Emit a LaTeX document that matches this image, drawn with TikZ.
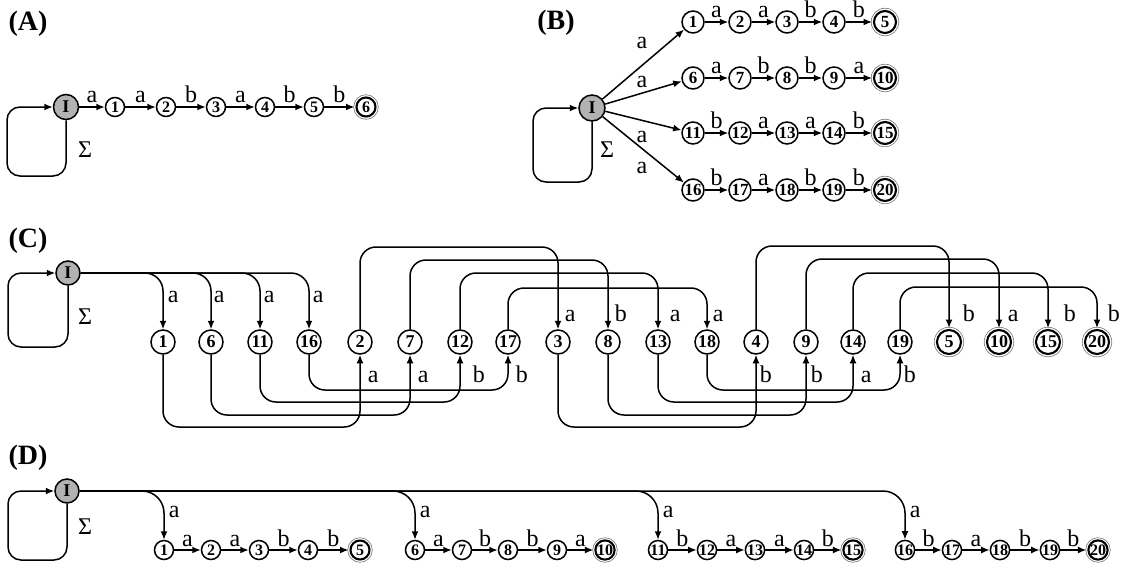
\documentclass[tikz,border=0pt]{standalone}
\usepackage{fontspec}
\setmainfont{Liberation Serif}
\usetikzlibrary{arrows.meta}
\tikzset{
  arr/.style={-{Latex[length=8.5pt,width=7pt]}},
  lab/.style={font=\fontsize{24}{24}\selectfont, inner sep=0pt},
  ttl/.style={font=\fontsize{28}{28}\selectfont\bfseries, inner sep=0pt},
  init/.style={circle, draw, fill=black!30, inner sep=0pt, minimum size=#1, font=\fontsize{18}{18}\selectfont\bfseries},
  st/.style 2 args={circle, draw, inner sep=0pt, minimum size=#1, font=\fontsize{#2}{#2}\selectfont\bfseries},
  acc/.style={line width=2.1pt, outer sep=2pt},
  ring/.style={line width=0.6pt, draw=black!55},
}
\begin{document}
\begin{tikzpicture}[x=1pt,y=-1pt,line width=1.5pt]
\useasboundingbox (0,0) rectangle (1121,579);
% ---------------- (A)
\node[ttl] (tA) at (28,24) {(A)};
\node[init=25pt] (aI) at (66,107) {I};
\foreach \n/\x in {1/115,2/166,3/216,4/265,5/314}
  \node[st={19pt}{16}] (a\n) at (\x,107) {\n};
\node[st={19pt}{16}, acc] (a6) at (366,107) {6};
\draw[ring] (a6) circle[radius=12.3];
\foreach \s/\t/\l in {aI/a1/a, a1/a2/a, a2/a3/b, a3/a4/a, a4/a5/b, a5/a6/b}
  \draw[arr] (\s) -- node[lab, above=4pt] (l\s\t) {\l} (\t);
\draw[arr, rounded corners=13] (aI.south) -- (aI |- 0,176) -- (7,176) -- (7,107) -- (aI.west);
\node[lab] (sA) at (85,150) {Σ};
% ---------------- (B)
\node[ttl] (tB) at (556,23) {(B)};
\node[init=26pt] (bI) at (592,108) {I};
\foreach \y [count=\r from 0] in {22,78,133,190} {
  \foreach \x [count=\c] in {693,740,787,834} {
    \pgfmathtruncatemacro\n{5*\r+\c}
    \node[st={22pt}{17}] (b\n) at (\x,\y) {\n};
  }
  \pgfmathtruncatemacro\n{5*\r+5}
  \node[st={22pt}{17}, acc] (b\n) at (885,\y) {\n};
  \draw[ring] (b\n) circle[radius=13.8];
}
\foreach \s/\t/\l in {1/2/a,2/3/a,3/4/b,4/5/b, 6/7/a,7/8/b,8/9/b,9/10/a, 11/12/b,12/13/a,13/14/a,14/15/b, 16/17/b,17/18/a,18/19/b,19/20/b}
  \draw[arr] (b\s) -- node[lab, above=4pt] (lb\s) {\l} (b\t);
\foreach \t/\lx/\ly in {1/642/43, 6/642/82, 11/642/137, 16/642/168} {
  \draw[arr] (bI) -- (b\t);
  \node[lab] (lbI\t) at (\lx,\ly) {a};
}
\draw[arr, rounded corners=13] (bI.south) -- (bI |- 0,182) -- (533,182) -- (533,108) -- (bI.west);
\node[lab] (sB) at (607,150) {Σ};
% ---------------- (C)
\node[ttl] (tC) at (28,241) {(C)};
\node[init=24pt] (cI) at (68,273) {I};
\foreach \n/\x in {1/163,6/211,11/260,16/309,2/360,7/410,12/460,17/508,3/558,8/608,13/658,18/707,4/756,9/806,14/853,19/900}
  \node[st={24pt}{18}] (c\n) at (\x,342) {\n};
\foreach \n/\x in {5/949,10/999,15/1048,20/1097} {
  \node[st={24pt}{18}, acc] (c\n) at (\x,342) {\n};
  \draw[ring] (c\n) circle[radius=14.8];
}
\draw[arr, rounded corners=13] (cI.south) -- (cI |- 0,347) -- (8,347) -- (8,273) -- (cI.west);
\node[lab] (sC) at (85,317) {Σ};
\foreach \t/\dx in {1/4,6/2,11/3,16/3} {
  \draw[arr, rounded corners=18] (cI.east) -| (c\t.north);
  \path (c\t) ++(\dx,-40) node[lab, anchor=base west] (lcI\t) {a};
}
\foreach \s/\t/\h/\l/\dx in {2/3/247/a/6, 7/8/260/b/6, 12/13/273/a/11, 17/18/288/a/5, 4/5/246/b/13, 9/10/259/a/8, 14/15/273/b/15, 19/20/287/b/10} {
  \draw[arr, rounded corners=16] (c\s.north) -- (c\s |- 0,\h) -- (c\t |- 0,\h) -- (c\t.north);
  \path (c\t) ++(\dx,-21) node[lab, anchor=base west] (lc\s) {\l};
}
\foreach \s/\t/\h/\l/\dx in {1/2/427/a/7, 6/7/415/a/7, 11/12/402/b/12, 16/17/390/b/7, 3/4/427/b/3, 8/9/415/b/4, 13/14/402/a/7, 18/19/390/b/3} {
  \draw[arr, rounded corners=16] (c\s.south) -- (c\s |- 0,\h) -- (c\t |- 0,\h) -- (c\t.south);
  \path (c\t) ++(\dx,40) node[lab, anchor=base west] (lc\s) {\l};
}
% ---------------- (D)
\node[ttl] (tD) at (28,458) {(D)};
\node[init=24pt] (dI) at (67,491) {I};
\foreach \n/\x in {1/164,2/211,3/259,4/308,6/415,7/462,8/508,9/557,11/658,12/707,13/755,14/804,16/905,17/952,18/1000,19/1050}
  \node[st={19pt}{16}] (d\n) at (\x,550) {\n};
\foreach \n/\x in {5/360,10/605,15/853,20/1098} {
  \node[st={19pt}{16}, acc] (d\n) at (\x,550) {\n};
  \draw[ring] (d\n) circle[radius=12.3];
}
\foreach \s/\t/\l in {1/2/a,2/3/a,3/4/b,4/5/b, 6/7/a,7/8/b,8/9/b,9/10/a, 11/12/b,12/13/a,13/14/a,14/15/b, 16/17/b,17/18/a,18/19/b,19/20/b}
  \draw[arr] (d\s) -- node[lab, above=3pt] (ld\s) {\l} (d\t);
\foreach \t in {1,6,11,16} {
  \draw[arr, rounded corners=22] (dI.east) -| (d\t.north);
  \path (d\t) ++(4,-33) node[lab, anchor=base west] (ldI\t) {a};
}
\draw[arr, rounded corners=13] (dI.south) -- (dI |- 0,560) -- (8,560) -- (8,491) -- (dI.west);
\node[lab] (sD) at (85,527) {Σ};
\end{tikzpicture}
\end{document}
